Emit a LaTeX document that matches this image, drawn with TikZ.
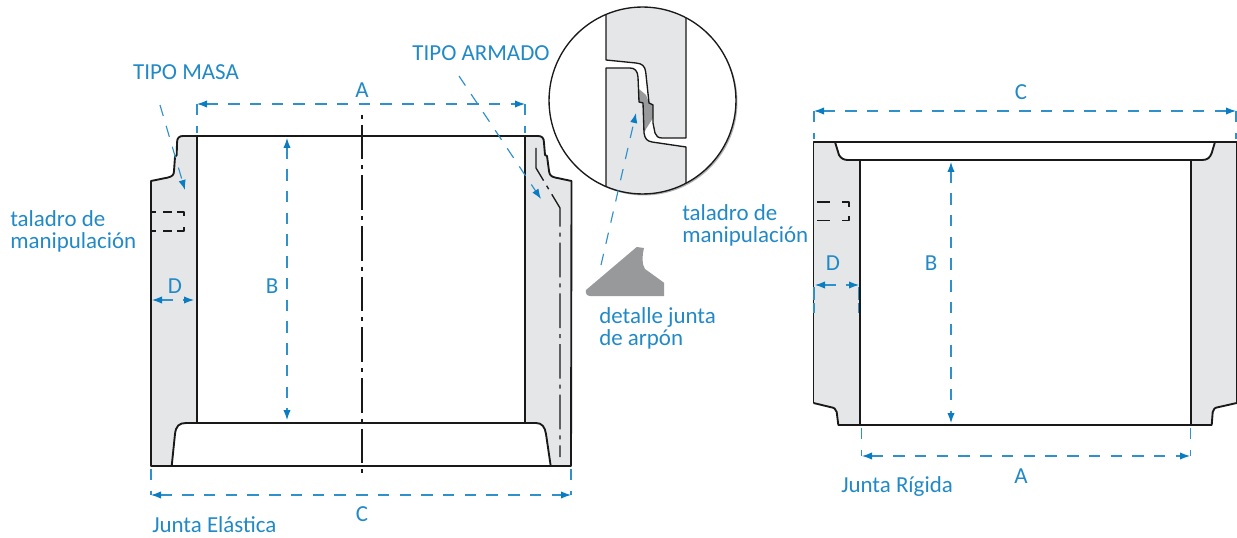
\documentclass[tikz,border=0pt]{standalone}
\usepackage{fontspec}
\setmainfont{Carlito}
\usetikzlibrary{arrows.meta}
\definecolor{dimblue}{HTML}{0A7CC1}
\definecolor{wallgrey}{HTML}{E5E6E7}
\definecolor{jointgrey}{HTML}{98999B}
\tikzset{
  wall/.style={line width=1.4pt, black!90, line join=round},
  thinwall/.style={line width=1pt, black!90, line join=round},
  dimline/.style={dimblue!85, line width=0.85pt, dash pattern=on 8.6pt off 7.7pt},
  dimboth/.style={dimline, {Latex[length=7.5pt,width=5.5pt,color=dimblue]}-{Latex[length=7.5pt,width=5.5pt,color=dimblue]}},
  dimto/.style={dimline, -{Latex[length=7.5pt,width=5.5pt,color=dimblue]}},
  dimlbl/.style={text=dimblue!90, font=\fontsize{17.2}{16.5}\selectfont, inner sep=0pt},
  notelbl/.style={dimlbl, align=left},
  axis/.style={line width=1pt, black!90, dash pattern=on 26pt off 4.5pt on 3pt off 4.5pt}
}
\begin{document}
\begin{tikzpicture}[x=0.75pt,y=-0.75pt]
\useasboundingbox (0,0) rectangle (1237,538);

%left ring coords
\coordinate (ltl) at (197,136); \coordinate (ltr) at (525,136);
\coordinate (lbl) at (197,423); \coordinate (lbr) at (525,423);
\coordinate (lfootl) at (151,466); \coordinate (lfootr) at (571,466);

%left ring fill
\fill [wallgrey] (ltl) -- (183,136) .. controls (179,136) and (177,138) .. (177,143) -- (176.7,155) -- (175,157) -- (174,171) .. controls (174,175) and (172,176.5) .. (168,177.5) -- (151,181) -- (lfootl) -- (171.7,466) -- (175,434) .. controls (176,426) and (179,423) .. (186,423) -- (lbl) -- cycle;
\fill [wallgrey] (ltr) -- (538,136) .. controls (542,136) and (544,138) .. (544,143) -- (545,155) -- (547,156) -- (549,171) .. controls (549.5,175) and (551,176.5) .. (555,177.5) -- (571.5,181) -- (lfootr) -- (550.7,466) -- (546,434) .. controls (545,427) and (542,423) .. (536,423) -- (lbr) -- cycle;

%left ring draw
\draw [wall] (lfootl) -- (151,181) -- (168,177.5) .. controls (172,176.5) and (174,175) .. (174,171) -- (175,157) -- (176.7,155) -- (177,143) .. controls (177,138) and (179,136) .. (183,136) -- (538,136) .. controls (542,136) and (544,138) .. (544,143) -- (545,155) -- (547,156) -- (549,171) .. controls (549.5,175) and (551,176.5) .. (555,177.5) -- (571.5,181) -- (lfootr) -- cycle;
\draw [wall] (ltl) -- (lbl);
\draw [wall] (ltr) -- (lbr);
\draw [wall] (171.7,466) -- (175,434) .. controls (176,426) and (179,423) .. (186,423) -- (536,423) .. controls (542,423) and (545,427) .. (546,434) -- (550.7,466);
\draw [axis, dash phase=30pt] (362,114) -- (362,477);
\draw [axis] (536,148) -- (536,168) -- (560,208) -- (560,457);

%left hole
\draw [thinwall] (151,212) -- (156,212) (163,212) -- (172,212) (177,212) -- (184,212) -- (184,216);
\draw [thinwall] (151,231) -- (156,231) (163,231) -- (172,231) (177,231) -- (184,231) -- (184,227);

%right ring coords
\coordinate (rtl) at (860,160); \coordinate (rtr) at (1190.7,160);
\coordinate (rbl) at (860,425); \coordinate (rbr) at (1190.7,425);
\coordinate (rcl) at (813.5,142); \coordinate (rcr) at (1236.7,142);

%right ring fill
\fill [wallgrey] (rcl) -- (835,142) -- (839,155) .. controls (841,158.5) and (844,160) .. (848,160) -- (rtl) -- (rbl) -- (838.3,425) -- (836.7,412) .. controls (836,409) and (834,407.5) .. (830,407) -- (813.5,403) -- cycle;
\fill [wallgrey] (rcr) -- (1215,142) -- (1211.7,153) .. controls (1210,158) and (1207,160) .. (1202,160) -- (rtr) -- (rbr) -- (1211.7,425) -- (1212.7,412) .. controls (1213,409) and (1215,407.5) .. (1219,407) -- (1236.7,403) -- cycle;

%right ring draw
\draw [wall] (813.5,403) -- (rcl) -- (rcr) -- (1236.7,403);
\draw [wall] (813.5,403) -- (830,407) .. controls (834,407.5) and (836,409) .. (836.7,412) -- (838.3,425) -- (1211.7,425) -- (1212.7,412) .. controls (1213,409) and (1215,407.5) .. (1219,407) -- (1236.7,403);
\draw [wall] (835,142) -- (839,155) .. controls (841,158.5) and (844,160) .. (848,160) -- (1202,160) .. controls (1207,160) and (1210,158) .. (1211.7,153) -- (1215,142);
\draw [wall] (rtl) -- (rbl);
\draw [wall] (rtr) -- (rbr);

%right hole
\draw [thinwall] (817,202) -- (830,202) (842,202) -- (849,202) -- (849,207);
\draw [thinwall] (817,220.5) -- (830,220.5) (842,220.5) -- (849,220.5) -- (849,216);

%detail circle
\coordinate (detc) at (642.5,100.5);
\fill [black!30] (644,102) circle [radius=70.1pt];
\fill [white] (detc) circle [radius=70.1pt];
\begin{scope}
\clip (detc) circle [radius=70.1pt];
\fill [wallgrey] (606,0) -- (606,60) -- (636,63) .. controls (642,63.5) and (645,66) .. (645.7,72) -- (649,103) -- (653,105) -- (653,123) -- (655,133) .. controls (656,136) and (658,138) .. (662,138) -- (686,138) -- (686,0) -- cycle;
\fill [wallgrey] (606,210) -- (606,68) -- (630,68) .. controls (635,68) and (637.5,71) .. (638,77) -- (639,102) -- (643,103) -- (644,133) .. controls (645,139) and (647,141) .. (652,142) -- (686,147) -- (686,210) -- cycle;
\fill [jointgrey] (639,89) -- (646,95) -- (649,103) -- (653,105) -- (653,118) -- (646,129) -- (644,133) -- (643,103) -- (639,102) -- cycle;
\draw [thinwall] (606,0) -- (606,60) -- (636,63) .. controls (642,63.5) and (645,66) .. (645.7,72) -- (649,103) -- (653,105) -- (653,123) -- (655,133) .. controls (656,136) and (658,138) .. (662,138) -- (686,138) -- (686,0);
\draw [thinwall] (606,210) -- (606,68) -- (630,68) .. controls (635,68) and (637.5,71) .. (638,77) -- (639,102) -- (643,103) -- (644,133) .. controls (645,139) and (647,141) .. (652,142) -- (686,147) -- (686,210);
\end{scope}
\draw [thinwall] (detc) circle [radius=70.1pt];

%arpon joint
\fill [jointgrey] (586,290) -- (636.7,247) -- (644,248) .. controls (642,256) and (642,265) .. (645,269) -- (664,282.7) -- (664,296) -- (590,296) .. controls (587,296) and (585,293) .. (586,290);

%left ring dims
\coordinate (lal) at (197,104); \coordinate (lar) at (525,104); \coordinate (lalx) at (197,133); \coordinate (larx) at (525,133);
\coordinate (lcl) at (151,495); \coordinate (lcr) at (571,495); \coordinate (lclx) at (151,469); \coordinate (lcrx) at (571,469);
\coordinate (lbt) at (287,138); \coordinate (lbb) at (287,420);
\coordinate (ldl) at (152,300); \coordinate (ldr) at (194,300);
\draw [dimboth] (lal) -- (lar);
\draw [dimboth] (lcl) -- (lcr);
\draw [dimboth] (lbt) -- (lbb);
\draw [dimboth] (ldl) -- (ldr);
\draw [dimline] (lal) -- (lalx);
\draw [dimline] (lar) -- (larx);
\draw [dimline] (lclx) -- (lcl);
\draw [dimline] (lcrx) -- (lcr);

%right ring dims
\coordinate (ral) at (862,456); \coordinate (rar) at (1190,456); \coordinate (ralx) at (861.5,428); \coordinate (ralz) at (861.5,456); \coordinate (rarx) at (1190.7,428); \coordinate (rarz) at (1190.7,456);
\coordinate (rcdl) at (814,111); \coordinate (rcdr) at (1236,111); \coordinate (rcdlx) at (814,139); \coordinate (rcdrx) at (1236,139);
\coordinate (rbt) at (951,162); \coordinate (rbb) at (951,423);
\coordinate (rdl) at (815,285); \coordinate (rdr) at (859,285);
\coordinate (rdlt) at (814,287); \coordinate (rdlb) at (814,313); \coordinate (rdrt) at (858.7,287); \coordinate (rdrb) at (858.7,313);
\draw [dimboth] (ral) -- (rar);
\draw [dimboth] (rcdl) -- (rcdr);
\draw [dimboth] (rbt) -- (rbb);
\draw [dimboth] (rdl) -- (rdr);
\draw [dimline] (ralx) -- (ralz);
\draw [dimline] (rarx) -- (rarz);
\draw [dimline] (rcdl) -- (rcdlx);
\draw [dimline] (rcdr) -- (rcdrx);
\draw [dimline, dash pattern=on 9.5pt off 2.5pt] (rdlt) -- (rdlb);
\draw [dimline, dash pattern=on 9.5pt off 2.5pt] (rdrt) -- (rdrb);

%labels
\node [dimlbl] (labA) at (362,90) {A};
\node [dimlbl] (labB) at (272,286) {B};
\node [dimlbl] (labC) at (362,514) {C};
\node [dimlbl] (labD) at (175,286) {D};
\node [dimlbl] (labAr) at (1021,476) {A};
\node [dimlbl] (labBr) at (931,263) {B};
\node [dimlbl] (labCr) at (1021,92) {C};
\node [dimlbl] (labDr) at (833,263) {D};
\node [dimlbl] (masa) at (186,72) {TIPO MASA};
\node [dimlbl] (armado) at (481,53) {TIPO ARMADO};
\node [notelbl, anchor=west] (tall) at (10,231) {taladro de\\manipulación};
\node [notelbl, anchor=west] (talr) at (682,225) {taladro de\\manipulación};
\node [notelbl, anchor=west] (arpon) at (599,328) {detalle junta\\de arpón};
\node [dimlbl, anchor=west] (jel) at (152,525) {Junta Elástica};
\node [dimlbl, anchor=west] (jri) at (841,487) {Junta Rígida};

%pointers
\coordinate (masas) at (160,105); \coordinate (masat) at (185,190);
\coordinate (arms) at (459,76); \coordinate (armt) at (541,199);
\coordinate (dets) at (601,265); \coordinate (dett) at (636,113);
\draw [dimto] (masas) -- (masat);
\draw [dimto] (arms) -- (armt);
\draw [dimto] (dets) -- (dett);
\end{tikzpicture}
\end{document}
